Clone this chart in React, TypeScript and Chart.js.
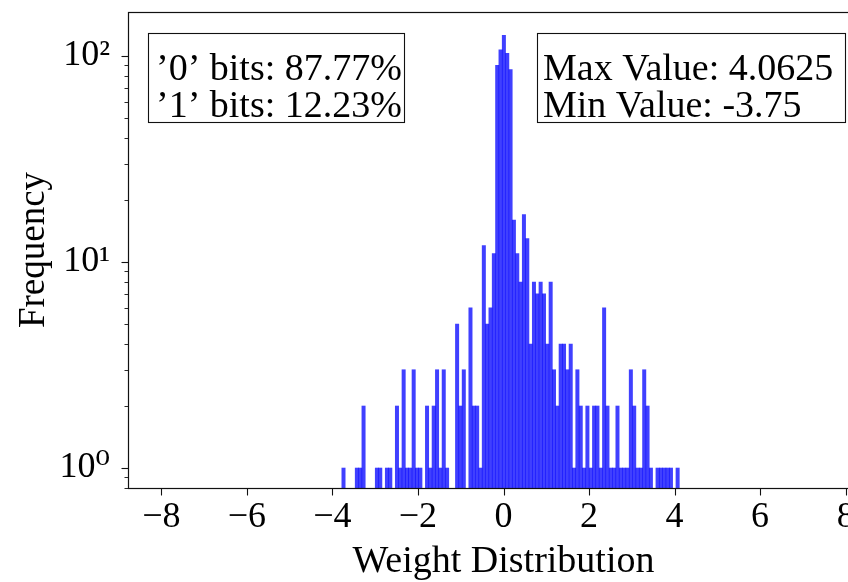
import React, { useEffect, useRef } from "react";
import { Chart, registerables } from "chart.js";

Chart.register(...registerables);

// ---- data ----
const binStart = -3.78;
const binWidth = 0.078125;
const binCounts = [
  1, 0, 0, 0, 1, 1, 2, 0, 0, 0,
  1, 1, 0, 1, 1, 0, 2, 1, 3, 1,
  1, 3, 1, 1, 0, 2, 1, 2, 3, 1,
  3, 1, 0, 0, 5, 2, 3, 0, 6, 2,
  2, 1, 12, 5, 6, 11, 90, 107, 126, 103,
  86, 16, 11, 8, 17, 13, 4, 8, 7, 8,
  7, 4, 8, 3, 2, 4, 4, 3, 4, 1,
  3, 2, 1, 2, 1, 2, 2, 1, 6, 2,
  1, 1, 2, 1, 1, 1, 3, 2, 1, 1,
  3, 2, 1, 0, 1, 1, 1, 1, 1, 0,
  1,
];
const xTickValues = [-8, -6, -4, -2, 0, 2, 4, 6, 8];
const yMajorTicks = [1, 10, 100];
const yMinorTicks = [0.8, 0.9, 2, 3, 4, 5, 6, 7, 8, 9, 20, 30, 40, 50, 60, 70, 80, 90];
const yTickLabels: Record<string, string> = { "1": "10\u2070", "10": "10\u00b9", "100": "10\u00b2" };
const xLabel = "Weight Distribution";
const yLabel = "Frequency";
const bitLines = ["\u20190\u2019 bits: 87.77%", "\u20191\u2019 bits: 12.23%"];
const rangeLines = ["Max Value: 4.0625", "Min Value: -3.75"];

const X_MIN = -8.78;
const X_MAX = 8.78;
const Y_MIN = 0.8;
const Y_MAX = 163.5;

const FONT = "'Liberation Serif', 'DejaVu Serif', serif";

function fmtX(v: number): string {
  return v < 0 ? "\u2212" + Math.abs(v) : String(v);
}

const framePlugin = {
  id: "frameAndBoxes",
  afterDatasetsDraw(chart: any) {
    const { ctx, chartArea } = chart;
    const { left, top, right, bottom } = chartArea;
    const xs = chart.scales.x;
    const ys = chart.scales.y;
    ctx.save();
    ctx.strokeStyle = "#111";
    ctx.lineWidth = 1.2;
    ctx.strokeRect(Math.round(left) + 0.5, Math.round(top) + 0.5, right - left, Math.round(bottom) - Math.round(top));

    const line = (x1: number, y1: number, x2: number, y2: number, w: number) => {
      ctx.beginPath();
      ctx.lineWidth = w;
      ctx.moveTo(x1, y1);
      ctx.lineTo(x2, y2);
      ctx.stroke();
    };
    const b = Math.round(bottom) + 0.5;
    xTickValues.forEach((v) => {
      const px = Math.round(xs.getPixelForValue(v)) + 0.5;
      line(px, b, px, b + 7, 1.1);
    });
    const l = Math.round(left) + 0.5;
    yMajorTicks.forEach((v) => {
      const py = Math.round(ys.getPixelForValue(v)) + 0.5;
      line(l, py, l - 7, py, 1.1);
    });
    yMinorTicks.forEach((v) => {
      if (v < Y_MIN || v > Y_MAX) return;
      const py = Math.round(ys.getPixelForValue(v)) + 0.5;
      line(l, py, l - 4, py, 0.9);
    });

    // text boxes
    const drawBox = (bx: number, by: number, bw: number, bh: number, lines: string[], tx: number) => {
      ctx.fillStyle = "#fff";
      ctx.fillRect(bx, by, bw, bh);
      ctx.lineWidth = 1.1;
      ctx.strokeStyle = "#111";
      ctx.strokeRect(bx + 0.5, by + 0.5, bw, bh);
      ctx.fillStyle = "#000";
      ctx.font = `38px ${FONT}`;
      ctx.textAlign = "left";
      ctx.textBaseline = "alphabetic";
      ctx.fillText(lines[0], bx + tx, by + 47);
      ctx.fillText(lines[1], bx + tx, by + 84);
    };
    const L = Math.round(left);
    const T = Math.round(top);
    drawBox(L + 20, T + 21, 256, 89, bitLines, 8);
    drawBox(L + 409, T + 21, 308, 89, rangeLines, 6);
    ctx.restore();
  },
};

export default function App() {
  const ref = useRef<HTMLCanvasElement | null>(null);

  useEffect(() => {
    if (!ref.current) return;
    Chart.defaults.font.family = FONT;
    Chart.defaults.color = "#000";
    const points = binCounts.map((c, i) => ({
      x: binStart + binWidth * (i + 0.5),
      y: c > 0 ? c : null,
    }));
    const chart = new Chart(ref.current, {
      type: "bar",
      data: {
        datasets: [
          {
            data: points as any,
            backgroundColor: "rgba(0,0,255,0.75)",
            borderColor: "rgba(0,0,0,0)",
            borderWidth: 0,
            barPercentage: 1,
            categoryPercentage: 1,
          },
        ],
      },
      options: {
        animation: false,
        responsive: false,
        maintainAspectRatio: false,
        layout: { padding: { left: 0, top: 12, right: 21, bottom: 0 } },
        plugins: { legend: { display: false }, tooltip: { enabled: false } },
        scales: {
          x: {
            type: "linear",
            min: X_MIN,
            max: X_MAX,
            offset: false,
            grid: { display: false, drawTicks: false, offset: false },
            border: { display: false },
            afterBuildTicks: (s: any) => {
              s.ticks = xTickValues.map((v) => ({ value: v }));
            },
            afterFit: (s: any) => {
              s.height = 94;
              s.paddingLeft = 0;
              s.paddingRight = 0;
            },
            ticks: {
              autoSkip: false,
              maxRotation: 0,
              padding: 8,
              color: "#000",
              font: { size: 36, family: FONT },
              callback: (v: any) => fmtX(Number(v)),
            },
            title: {
              display: true,
              text: xLabel,
              color: "#000",
              font: { size: 38, family: FONT, lineHeight: 1 },
              padding: { top: 0, bottom: 1 },
            },
          },
          y: {
            type: "logarithmic",
            min: Y_MIN,
            max: Y_MAX,
            grid: { display: false, drawTicks: false },
            border: { display: false },
            afterBuildTicks: (s: any) => {
              s.ticks = [...yMinorTicks, ...yMajorTicks]
                .filter((v) => v >= Y_MIN && v <= Y_MAX)
                .sort((a, b) => a - b)
                .map((v) => ({ value: v, major: yMajorTicks.includes(v) }));
            },
            afterFit: (s: any) => {
              s.width = 128;
              s.paddingTop = 0;
              s.paddingBottom = 0;
            },
            ticks: {
              autoSkip: false,
              padding: 18,
              color: "#000",
              font: { size: 36, family: FONT },
              callback: (v: any) => yTickLabels[String(v)] ?? "",
            },
            title: {
              display: true,
              text: yLabel,
              color: "#000",
              font: { size: 37, family: FONT, lineHeight: 1.2 },
              padding: { top: 12, bottom: 0 },
            },
          },
        },
      },
      plugins: [framePlugin],
    });
    return () => chart.destroy();
  }, []);

  return (
    <div
      style={{
        position: "fixed",
        left: 0,
        top: 0,
        width: 848,
        height: 582,
        overflow: "hidden",
        background: "#fff",
      }}
    >
      <canvas ref={ref} width={900} height={582} style={{ display: "block", width: 900, height: 582 }} />
    </div>
  );
}
